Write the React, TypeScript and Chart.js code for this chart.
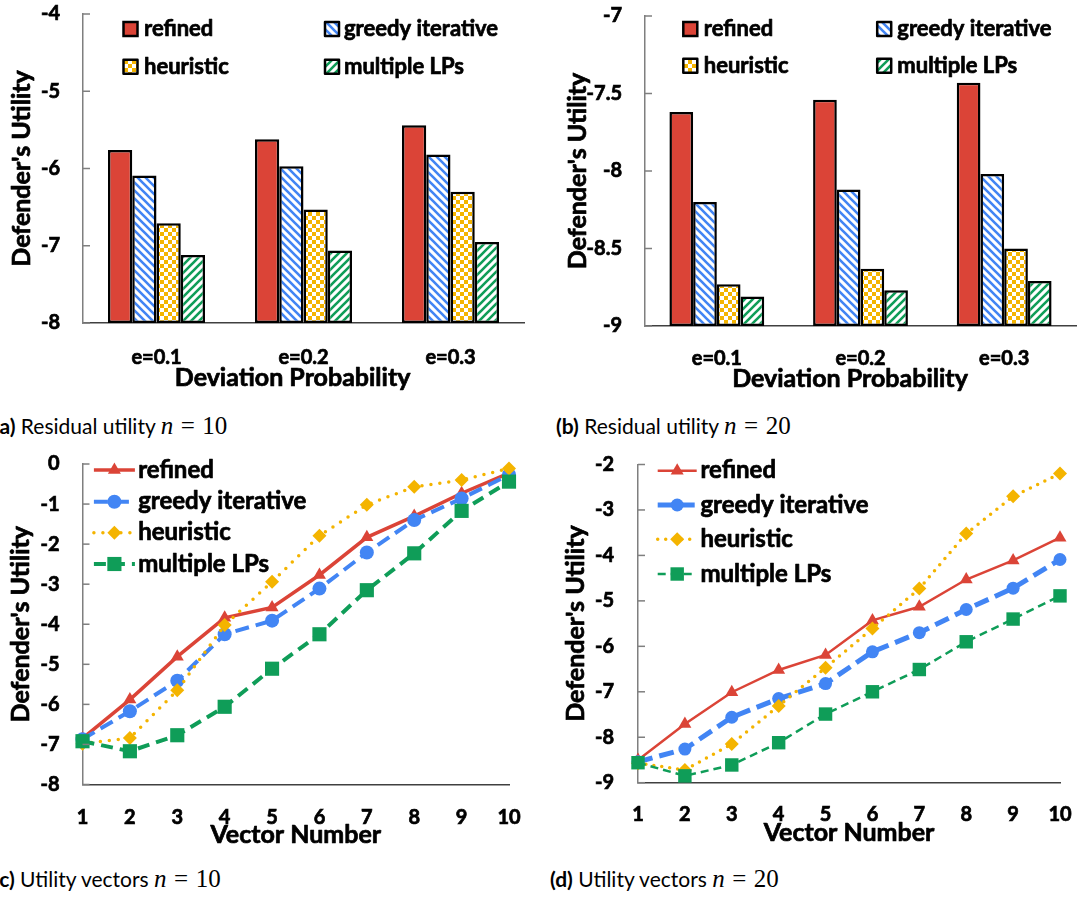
import React, { useEffect, useRef } from 'react';
import { Chart, registerables } from 'chart.js';

Chart.register(...registerables);

// ---------- data ----------
const seriesNames = ['refined', 'greedy iterative', 'heuristic', 'multiple LPs'];

const barCategories = ['e=0.1', 'e=0.2', 'e=0.3'];
const barA_refined = [-5.76, -5.62, -5.44];
const barA_greedy = [-6.09, -5.97, -5.82];
const barA_heuristic = [-6.71, -6.53, -6.3];
const barA_multiple = [-7.12, -7.06, -6.95];
const yTicksA = [-8, -7, -6, -5, -4];

const barB_refined = [-7.62, -7.54, -7.43];
const barB_greedy = [-8.2, -8.12, -8.02];
const barB_heuristic = [-8.73, -8.63, -8.5];
const barB_multiple = [-8.81, -8.77, -8.71];
const yTicksB = [-9, -8.5, -8, -7.5, -7];

const vectorLabels = ['1', '2', '3', '4', '5', '6', '7', '8', '9', '10'];
const lineC_refined = [-6.85, -5.88, -4.81, -3.84, -3.58, -2.77, -1.83, -1.3, -0.73, -0.23];
const lineC_greedy = [-6.87, -6.17, -5.41, -4.25, -3.91, -3.11, -2.21, -1.4, -0.86, -0.27];
const lineC_heuristic = [-6.98, -6.84, -5.65, -4.02, -2.94, -1.79, -1.02, -0.57, -0.4, -0.11];
const lineC_multiple = [-6.92, -7.17, -6.77, -6.06, -5.11, -4.25, -3.15, -2.23, -1.17, -0.44];
const yTicksC = [-8, -7, -6, -5, -4, -3, -2, -1, 0];

const lineD_refined = [-8.5, -7.71, -7.01, -6.52, -6.19, -5.43, -5.13, -4.53, -4.11, -3.61];
const lineD_greedy = [-8.54, -8.26, -7.56, -7.15, -6.82, -6.12, -5.7, -5.19, -4.72, -4.09];
const lineD_heuristic = [-8.57, -8.72, -8.15, -7.31, -6.47, -5.61, -4.73, -3.52, -2.7, -2.2];
const lineD_multiple = [-8.56, -8.85, -8.61, -8.12, -7.49, -7.0, -6.51, -5.9, -5.4, -4.89];
const yTicksD = [-9, -8, -7, -6, -5, -4, -3, -2];

const yTitle = "Defender's Utility";
const barXTitle = 'Deviation Probability';
const lineXTitle = 'Vector Number';

// ---------- styles ----------
const RED = '#DB4437';
const BLUE = '#4285F4';
const YELLOW = '#F4B400';
const GREEN = '#0F9D58';
const FONT = 'Lato';
const W = 'bold';
const STROKE = 0.7;

function makePattern(kind: 'back' | 'fwd' | 'check', color: string): CanvasPattern | string {
  const c = document.createElement('canvas');
  const s = 8;
  c.width = s;
  c.height = s;
  const g = c.getContext('2d');
  if (!g) return color;
  g.fillStyle = '#ffffff';
  g.fillRect(0, 0, s, s);
  if (kind === 'check') {
    const h = s / 2;
    g.fillStyle = color;
    g.fillRect(0, 0, h, h);
    g.fillRect(h, h, h, h);
  } else {
    g.strokeStyle = color;
    g.lineWidth = 2.6;
    g.beginPath();
    for (const k of [-s, 0, s]) {
      if (kind === 'back') {
        g.moveTo(k - 1, -1);
        g.lineTo(k + s + 1, s + 1);
      } else {
        g.moveTo(k - 1, s + 1);
        g.lineTo(k + s + 1, -1);
      }
    }
    g.stroke();
  }
  const p = g.createPattern(c, 'repeat');
  return p || color;
}

function drawMarker(ctx: CanvasRenderingContext2D, style: string, x: number, y: number, r: number, color: string) {
  ctx.save();
  ctx.setLineDash([]);
  ctx.fillStyle = color;
  ctx.beginPath();
  if (style === 'circle') {
    ctx.arc(x, y, r, 0, Math.PI * 2);
  } else if (style === 'triangle') {
    for (let k = 0; k < 3; k++) {
      const a = (k * 2 * Math.PI) / 3;
      const px = x + Math.sin(a) * r;
      const py = y - Math.cos(a) * r;
      if (k === 0) ctx.moveTo(px, py);
      else ctx.lineTo(px, py);
    }
    ctx.closePath();
  } else if (style === 'rectRot') {
    ctx.moveTo(x, y - r);
    ctx.lineTo(x + r, y);
    ctx.lineTo(x, y + r);
    ctx.lineTo(x - r, y);
    ctx.closePath();
  } else {
    const s = r * Math.SQRT1_2;
    ctx.rect(x - s, y - s, 2 * s, 2 * s);
  }
  ctx.fill();
  ctx.restore();
}

function boldText(ctx: CanvasRenderingContext2D, text: string, x: number, y: number) {
  ctx.fillText(text, x, y);
  ctx.lineWidth = STROKE;
  ctx.strokeStyle = '#000';
  ctx.lineJoin = 'round';
  ctx.setLineDash([]);
  ctx.strokeText(text, x, y);
}

type Spec = {
  kind: 'bar' | 'line';
  itemX: number[];
  itemY: number[];
  textX: number[];
  fontSize: number;
  lineLen?: number;
  titleSize: number;
  yTitleX: number;
  xTitleX?: number;
  xTitleY: number;
  xTitle: string;
};

function decorPlugin(spec: Spec) {
  return {
    id: 'decor',
    afterDraw(chart: any) {
      const ctx: CanvasRenderingContext2D = chart.ctx;
      const ca = chart.chartArea;
      const ys = chart.scales.y;
      ctx.save();
      // inner tick marks on the value axis
      ctx.strokeStyle = '#7f7f7f';
      ctx.lineWidth = 1.5;
      ys.ticks.forEach((t: any) => {
        const py = ys.getPixelForValue(t.value);
        ctx.beginPath();
        ctx.moveTo(ca.left, py);
        ctx.lineTo(ca.left + 7, py);
        ctx.stroke();
      });
      // legend
      ctx.font = `${W} ${spec.fontSize}px ${FONT}`;
      ctx.textBaseline = 'middle';
      ctx.textAlign = 'left';
      chart.data.datasets.forEach((ds: any, i: number) => {
        const x = spec.itemX[i];
        const y = spec.itemY[i];
        if (spec.kind === 'bar') {
          ctx.fillStyle = ds.backgroundColor;
          ctx.fillRect(x, y - 7, 14, 14);
          ctx.strokeStyle = '#000';
          ctx.lineWidth = 2.5;
          ctx.setLineDash([]);
          ctx.strokeRect(x, y - 7, 14, 14);
        } else {
          const len = spec.lineLen || 40;
          ctx.strokeStyle = ds.borderColor;
          ctx.lineWidth = ds.borderWidth;
          ctx.setLineDash(ds.borderDash || []);
          ctx.lineCap = ds.borderCapStyle || 'butt';
          ctx.beginPath();
          ctx.moveTo(x, y);
          ctx.lineTo(x + len, y);
          ctx.stroke();
          ctx.setLineDash([]);
          ctx.lineCap = 'butt';
          drawMarker(ctx, ds.pointStyle, x + len / 2, y, ds.pointRadius, ds.borderColor);
        }
        ctx.fillStyle = '#000';
        boldText(ctx, ds.label, spec.textX[i], y);
      });
      // axis titles
      ctx.font = `${W} ${spec.titleSize}px ${FONT}`;
      ctx.textAlign = 'center';
      ctx.textBaseline = 'middle';
      ctx.fillStyle = '#000';
      const xtx = spec.xTitleX !== undefined ? spec.xTitleX : (ca.left + ca.right) / 2;
      boldText(ctx, spec.xTitle, xtx, spec.xTitleY);
      ctx.save();
      ctx.translate(spec.yTitleX, (ca.top + ca.bottom) / 2);
      ctx.rotate(-Math.PI / 2);
      ctx.fillStyle = '#000';
      boldText(ctx, yTitle, 0, 0);
      ctx.restore();
      ctx.restore();
    },
  };
}

function yScale(ticksArr: number[], width: number, tickPad: number) {
  return {
    type: 'linear',
    min: Math.min(...ticksArr),
    max: Math.max(...ticksArr),
    afterBuildTicks: (s: any) => {
      s.ticks = ticksArr.map((v) => ({ value: v }));
    },
    afterFit: (s: any) => {
      s.width = width;
      s.paddingTop = 0;
      s.paddingBottom = 0;
      s.paddingLeft = 0;
      s.paddingRight = 0;
    },
    grid: { display: false, drawTicks: false },
    border: { display: true, color: '#7f7f7f', width: 1.5 },
    ticks: {
      padding: tickPad,
      color: '#000',
      textStrokeColor: '#000',
      textStrokeWidth: STROKE,
      font: { family: FONT, weight: W, size: 20, lineHeight: 1 },
      callback: (v: any) => String(v),
    },
    title: { display: false },
  };
}

function xScale(height: number, tickPad: number, offset = true) {
  return {
    type: 'category',
    offset,
    afterFit: (s: any) => {
      s.height = height;
      s.paddingTop = 0;
      s.paddingBottom = 0;
      s.paddingLeft = 0;
      s.paddingRight = 0;
    },
    grid: { display: false, drawTicks: false },
    border: { display: true, color: '#404040', width: 1.5 },
    ticks: {
      padding: tickPad,
      color: '#000',
      textStrokeColor: '#000',
      textStrokeWidth: STROKE,
      maxRotation: 0,
      autoSkip: false,
      font: { family: FONT, weight: W, size: 20, lineHeight: 1 },
    },
    title: { display: false },
  };
}

const baseOptions = (padTop: number, padRight: number) => ({
  responsive: false,
  maintainAspectRatio: false,
  animation: false as const,
  events: [] as any[],
  layout: { padding: { top: padTop, right: padRight, left: 0, bottom: 0 } },
  plugins: { legend: { display: false }, tooltip: { enabled: false } },
});

type Layout = { padTop: number; padRight: number; yWidth: number; yTickPad: number; xHeight: number; xTickPad: number };

function barConfig(vals: number[][], yTicks: number[], layout: Layout, spec: Spec) {
  const fills = [RED, makePattern('back', BLUE), makePattern('check', YELLOW), makePattern('fwd', GREEN)];
  const base = Math.min(...yTicks);
  return {
    type: 'bar',
    data: {
      labels: barCategories,
      datasets: vals.map((d, i) => ({
        label: seriesNames[i],
        data: d,
        base,
        backgroundColor: fills[i],
        borderColor: '#000',
        borderWidth: 2.5,
        borderSkipped: false,
        categoryPercentage: 0.66,
        barPercentage: 1,
      })),
    },
    options: {
      ...baseOptions(layout.padTop, layout.padRight),
      scales: {
        x: xScale(layout.xHeight, layout.xTickPad),
        y: yScale(yTicks, layout.yWidth, layout.yTickPad),
      },
    },
    plugins: [decorPlugin(spec)],
  };
}

type LineStyle = { width: number; dash: number[]; cap: string; r: number };

function lineConfig(vals: number[][], yTicks: number[], styles: LineStyle[], layout: Layout, spec: Spec) {
  const colors = [RED, BLUE, YELLOW, GREEN];
  const shapes = ['triangle', 'circle', 'rectRot', 'rect'];
  return {
    type: 'line',
    data: {
      labels: vectorLabels,
      datasets: vals.map((d, i) => ({
        label: seriesNames[i],
        data: d,
        order: 4 - i,
        borderColor: colors[i],
        backgroundColor: colors[i],
        borderWidth: styles[i].width,
        borderDash: styles[i].dash,
        borderCapStyle: styles[i].cap,
        tension: 0,
        fill: false,
        clip: false,
        pointStyle: shapes[i],
        pointRadius: styles[i].r,
        pointBackgroundColor: colors[i],
        pointBorderColor: colors[i],
        pointBorderWidth: 0,
      })),
    },
    options: {
      ...baseOptions(layout.padTop, layout.padRight),
      scales: {
        x: xScale(layout.xHeight, layout.xTickPad, false),
        y: yScale(yTicks, layout.yWidth, layout.yTickPad),
      },
    },
    plugins: [decorPlugin(spec)],
  };
}

function ChartBox(props: { left: number; top: number; width: number; height: number; make: () => any }) {
  const ref = useRef<HTMLCanvasElement>(null);
  useEffect(() => {
    if (!ref.current) return;
    const chart = new Chart(ref.current, props.make());
    return () => chart.destroy();
  }, []);
  return (
    <canvas
      ref={ref}
      width={props.width}
      height={props.height}
      style={{ position: 'absolute', left: props.left, top: props.top, width: props.width, height: props.height }}
    />
  );
}

function Caption(props: { left: number; baseline: number; tag: string; text: string; n: string }) {
  return (
    <div
      style={{
        position: 'absolute',
        left: props.left,
        top: props.baseline - 19,
        fontFamily: FONT,
        fontSize: 21,
        lineHeight: '24px',
        whiteSpace: 'nowrap',
        color: '#000',
      }}
    >
      <b>({props.tag})</b> {props.text}{' '}
      <span style={{ fontFamily: '"Liberation Serif", serif', fontSize: 25 }}>
        <i>n</i>
        <span style={{ margin: '0 0.3em' }}>=</span>
        {props.n}
      </span>
    </div>
  );
}

const stylesC: LineStyle[] = [
  { width: 3.5, dash: [], cap: 'butt', r: 7.5 },
  { width: 4, dash: [14, 7], cap: 'butt', r: 7 },
  { width: 3.5, dash: [0, 9], cap: 'round', r: 7 },
  { width: 4, dash: [12, 7], cap: 'butt', r: 10 },
];
const stylesD: LineStyle[] = [
  { width: 2.5, dash: [], cap: 'butt', r: 7.5 },
  { width: 5, dash: [15, 7], cap: 'butt', r: 6.5 },
  { width: 3.5, dash: [0, 8], cap: 'round', r: 7 },
  { width: 2.5, dash: [8, 5], cap: 'butt', r: 9.5 },
];

export default function App() {
  return (
    <div style={{ position: 'absolute', left: 0, top: 0, width: 1088, height: 898, overflow: 'hidden', background: '#fff' }}>
      <ChartBox
        left={0}
        top={0}
        width={540}
        height={400}
        make={() =>
          barConfig(
            [barA_refined, barA_greedy, barA_heuristic, barA_multiple],
            yTicksA,
            { padTop: 14, padRight: 16, yWidth: 83, yTickPad: 23, xHeight: 77, xTickPad: 25 },
            {
              kind: 'bar',
              itemX: [123.5, 325, 123.5, 325],
              itemY: [29, 29, 66.7, 66.7],
              textX: [144, 344, 144, 344],
              fontSize: 22,
              titleSize: 25,
              yTitleX: 22,
              xTitleX: 292.6,
              xTitleY: 378,
              xTitle: barXTitle,
            }
          )
        }
      />
      <ChartBox
        left={540}
        top={0}
        width={548}
        height={400}
        make={() =>
          barConfig(
            [barB_refined, barB_greedy, barB_heuristic, barB_multiple],
            yTicksB,
            { padTop: 16, padRight: 12, yWidth: 105, yTickPad: 23, xHeight: 74, xTickPad: 22.5 },
            {
              kind: 'bar',
              itemX: [143.3, 337.2, 143.3, 337.2],
              itemY: [29, 29, 65.7, 65.7],
              textX: [163.8, 357.3, 163.8, 357.3],
              fontSize: 22,
              titleSize: 25,
              yTitleX: 38.2,
              xTitleX: 310,
              xTitleY: 379,
              xTitle: barXTitle,
            }
          )
        }
      />
      <ChartBox
        left={0}
        top={440}
        width={540}
        height={420}
        make={() =>
          lineConfig(
            [lineC_refined, lineC_greedy, lineC_heuristic, lineC_multiple],
            yTicksC,
            stylesC,
            { padTop: 24, padRight: 31, yWidth: 82.5, yTickPad: 23, xHeight: 75.5, xTickPad: 22.7 },
            {
              kind: 'line',
              itemX: [93.9, 93.9, 93.9, 93.9],
              itemY: [30, 61.7, 92.7, 124],
              textX: [138.2, 138.2, 138.2, 138.2],
              lineLen: 41,
              fontSize: 24,
              titleSize: 25,
              yTitleX: 20.5,
              xTitleY: 395,
              xTitle: lineXTitle,
            }
          )
        }
      />
      <ChartBox
        left={540}
        top={440}
        width={548}
        height={420}
        make={() =>
          lineConfig(
            [lineD_refined, lineD_greedy, lineD_heuristic, lineD_multiple],
            yTicksD,
            stylesD,
            { padTop: 24.5, padRight: 28, yWidth: 98, yTickPad: 24, xHeight: 77.3, xTickPad: 21.8 },
            {
              kind: 'line',
              itemX: [117.7, 117.7, 117.7, 117.7],
              itemY: [30.7, 65, 99.3, 134],
              textX: [160.4, 160.4, 160.4, 160.4],
              lineLen: 39,
              fontSize: 24,
              titleSize: 25,
              yTitleX: 35.8,
              xTitleY: 393.3,
              xTitle: lineXTitle,
            }
          )
        }
      />
      <Caption left={-6} baseline={433} tag="a" text="Residual utility" n="10" />
      <Caption left={556} baseline={433} tag="b" text="Residual utility" n="20" />
      <Caption left={-6} baseline={886} tag="c" text="Utility vectors" n="10" />
      <Caption left={550} baseline={886} tag="d" text="Utility vectors" n="20" />
    </div>
  );
}
